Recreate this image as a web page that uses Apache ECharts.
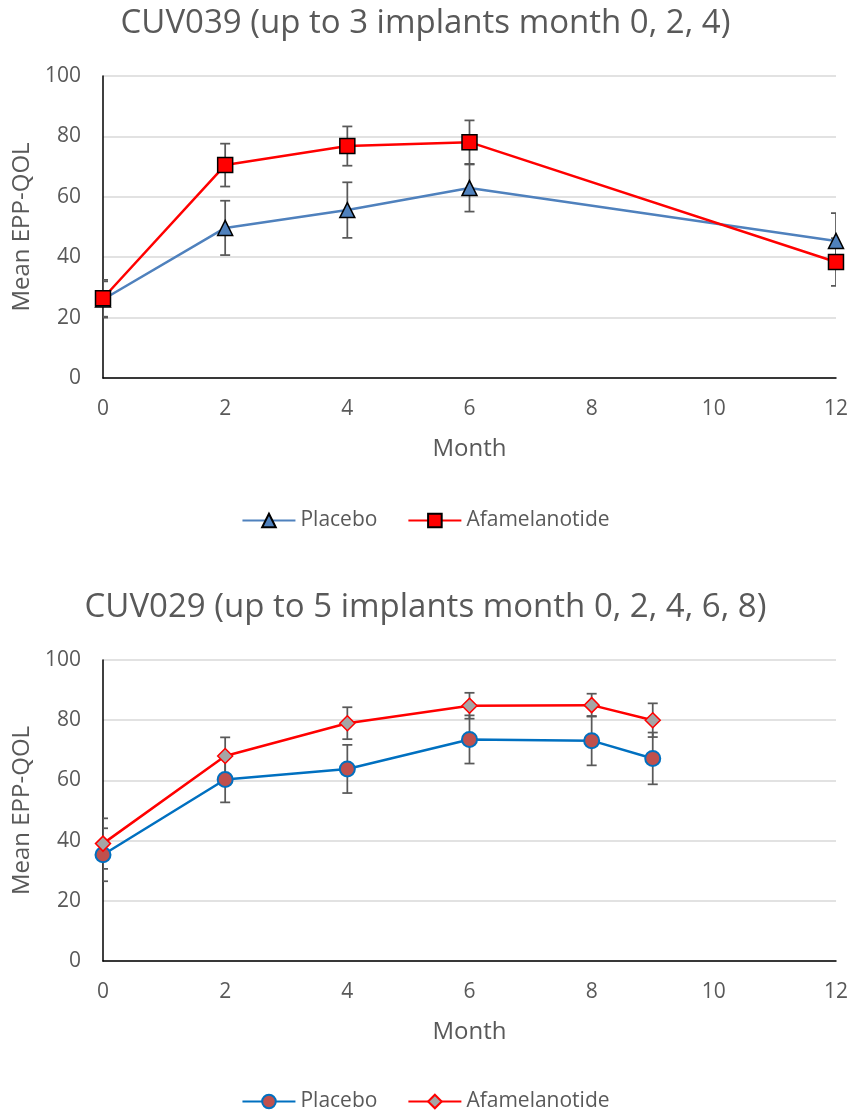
<!DOCTYPE html>
<html>
<head>
<meta charset="utf-8">
<script src="https://cdn.jsdelivr.net/npm/echarts@6/dist/echarts.min.js"></script>
<style>
html,body{margin:0;padding:0;background:#fff;}
#c1{position:absolute;left:0;top:0;width:851px;height:556px;}
#c2{position:absolute;left:0;top:556px;width:851px;height:557px;}
</style>
</head>
<body>
<div id="c1"></div>
<div id="c2"></div>
<script>
// ---- Data ----
const title1 = 'CUV039 (up to 3 implants month 0, 2, 4)';
const title2 = 'CUV029 (up to 5 implants month 0, 2, 4, 6, 8)';
const months1 = [0, 2, 4, 6, 12];
const placebo1 = [26.0, 49.7, 55.6, 62.9, 45.4];
const placeboErr1 = [6.0, 9.0, 9.2, 7.8, 9.2];
const afam1 = [26.4, 70.5, 76.8, 78.1, 38.4];
const afamErr1 = [6.1, 7.1, 6.5, 7.2, 7.9];

const months2 = [0, 2, 4, 6, 8, 9];
const placebo2 = [35.3, 60.3, 63.8, 73.6, 73.2, 67.3];
const placeboErr2 = [8.8, 7.6, 8.0, 8.0, 8.2, 8.6];
const afam2 = [39.0, 68.1, 79.0, 84.8, 85.0, 80.0];
const afamErr2 = [8.4, 6.2, 5.3, 4.3, 3.8, 5.6];

const seriesNames = ['Placebo', 'Afamelanotide'];
const xAxisName = 'Month';
const yAxisName = 'Mean EPP-QOL';

// ---- Helpers ----
const FONT = '"Open Sans", sans-serif';
const GREY = '#595959';

function pts(xs, ys) { return xs.map((x, i) => [x, ys[i]]); }
function errData(xs, ys, es) { return xs.map((x, i) => [x, ys[i] - es[i], ys[i] + es[i]]); }

function errSeries(data) {
  return {
    type: 'custom',
    clip: true,
    z: 1,
    silent: true,
    data: data,
    encode: { x: 0, y: [1, 2] },
    renderItem: function (params, api) {
      const x = api.value(0), lo = api.value(1), hi = api.value(2);
      const a = api.coord([x, hi]), b = api.coord([x, lo]);
      const h = 5;
      const st = { stroke: GREY, lineWidth: 1.75 };
      return {
        type: 'group',
        children: [
          { type: 'line', shape: { x1: a[0], y1: a[1], x2: b[0], y2: b[1] }, style: st },
          { type: 'line', shape: { x1: a[0] - h, y1: a[1], x2: a[0] + h, y2: a[1] }, style: st },
          { type: 'line', shape: { x1: b[0] - h, y1: b[1], x2: b[0] + h, y2: b[1] }, style: st }
        ]
      };
    }
  };
}

function buildOption(cfg) {
  return {
    animation: false,
    textStyle: { fontFamily: FONT },
    title: {
      text: cfg.title, left: 'center', top: cfg.titleTop,
      textStyle: { fontFamily: FONT, fontSize: 33, fontWeight: 'normal', color: GREY }
    },
    legend: {
      data: seriesNames, top: cfg.legendTop, left: 'center',
      itemWidth: 53, itemHeight: 17, itemGap: 30,
      textStyle: { fontFamily: FONT, fontSize: 21, color: GREY }
    },
    grid: { left: 103, right: 14, top: cfg.gridTop, height: cfg.gridHeight },
    xAxis: {
      type: 'value', min: 0, max: 12, interval: 2,
      name: xAxisName, nameLocation: 'middle', nameGap: 59,
      nameTextStyle: { fontFamily: FONT, fontSize: 24, color: GREY },
      axisLine: { show: true, onZero: false, lineStyle: { color: '#000', width: 1.5 } },
      axisTick: { show: false },
      axisLabel: { fontFamily: FONT, fontSize: 21, color: GREY, margin: 21 },
      splitLine: { show: false }
    },
    yAxis: {
      type: 'value', min: 0, max: 100, interval: 20,
      name: yAxisName, nameLocation: 'middle', nameGap: 68,
      nameTextStyle: { fontFamily: FONT, fontSize: 24, color: GREY },
      axisLine: { show: true, lineStyle: { color: '#000', width: 1.5 } },
      axisTick: { show: false },
      axisLabel: { fontFamily: FONT, fontSize: 21, color: GREY, margin: 22 },
      splitLine: { show: true, lineStyle: { color: '#d9d9d9', width: 1.5 } }
    },
    series: [
      errSeries(cfg.pErr),
      errSeries(cfg.aErr),
      {
        name: seriesNames[0], type: 'line', z: 3, data: cfg.p,
        symbol: cfg.pSymbol, symbolSize: cfg.pSize,
        lineStyle: { color: cfg.pLine, width: 2.5 },
        itemStyle: { color: cfg.pFill, borderColor: cfg.pBorder, borderWidth: cfg.pBW }
      },
      {
        name: seriesNames[1], type: 'line', z: 4, data: cfg.a,
        symbol: cfg.aSymbol, symbolSize: cfg.aSize,
        lineStyle: { color: '#ff0000', width: 2.5 },
        itemStyle: { color: cfg.aFill, borderColor: cfg.aBorder, borderWidth: cfg.aBW }
      }
    ]
  };
}

const chart1 = echarts.init(document.getElementById('c1'));
chart1.setOption(buildOption({
  title: title1, titleTop: 2, legendTop: 505, gridTop: 76, gridHeight: 302,
  p: pts(months1, placebo1), pErr: errData(months1, placebo1, placeboErr1),
  a: pts(months1, afam1), aErr: errData(months1, afam1, afamErr1),
  pSymbol: 'triangle', pSize: 15, pLine: '#4f81bd', pFill: '#4f81bd', pBorder: '#000', pBW: 1.5,
  aSymbol: 'rect', aSize: 15, aFill: '#ff0000', aBorder: '#000', aBW: 1.5
}));

const chart2 = echarts.init(document.getElementById('c2'));
chart2.setOption(buildOption({
  title: title2, titleTop: 30, legendTop: 530, gridTop: 104, gridHeight: 301,
  p: pts(months2, placebo2), pErr: errData(months2, placebo2, placeboErr2),
  a: pts(months2, afam2), aErr: errData(months2, afam2, afamErr2),
  pSymbol: 'circle', pSize: 15, pLine: '#0070c0', pFill: '#c0504d', pBorder: '#0070c0', pBW: 2,
  aSymbol: 'diamond', aSize: 15, aFill: '#a5a5a5', aBorder: '#ff0000', aBW: 1.5
}));
</script>
</body>
</html>
